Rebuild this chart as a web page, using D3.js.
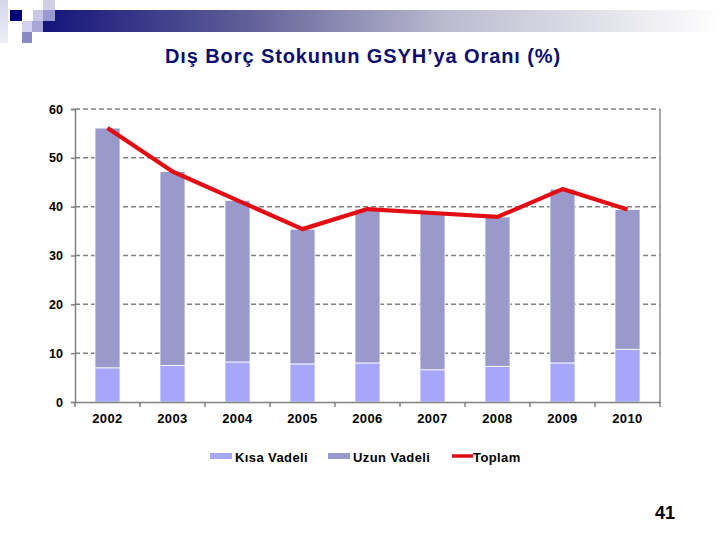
<!DOCTYPE html>
<html>
<head>
<meta charset="utf-8">
<script src="https://cdn.jsdelivr.net/npm/d3@7"></script>
<style>
  body { margin: 0; background: #fff; }
  svg { display: block; font-family: 'Liberation Sans', Arial, sans-serif; }
</style>
</head>
<body>
<svg id="chart"></svg>
<script>
(function () {
  'use strict';

  var years = ['2002', '2003', '2004', '2005', '2006', '2007', '2008', '2009', '2010'];
  var kisaVadeli = [7.0, 7.5, 8.2, 7.8, 8.0, 6.6, 7.3, 8.0, 10.8];
  var uzunVadeli = [49.1, 39.7, 33.1, 27.6, 31.5, 32.1, 30.6, 35.6, 28.6];
  var toplam = [56.1, 47.2, 41.3, 35.4, 39.5, 38.7, 37.9, 43.6, 39.4];
  var yTicks = [0, 10, 20, 30, 40, 50, 60];
  var legendItems = ['Kısa Vadeli', 'Uzun Vadeli', 'Toplam'];

  var svg = d3.select('#chart')
      .attr('width', 720)
      .attr('height', 540);

  // slide decoration: gradient banner + little squares
  var defs = svg.append('defs');
  var grad = defs.append('linearGradient')
      .attr('id', 'banner')
      .attr('x1', '0%').attr('x2', '100%');
  [[0, '#14147a'], [0.3, '#5f5f98'], [0.6, '#bcbcd0'], [1, '#ffffff']].forEach(function (s) {
    grad.append('stop').attr('offset', s[0]).attr('stop-color', s[1]);
  });
  var pale = defs.append('linearGradient')
      .attr('id', 'pale')
      .attr('x1', '0%').attr('x2', '0%').attr('y1', '0%').attr('y2', '100%');
  pale.append('stop').attr('offset', 0).attr('stop-color', '#d6d6ec');
  pale.append('stop').attr('offset', 1).attr('stop-color', '#eeeef8');

  svg.append('rect')
      .attr('x', 43).attr('y', 10).attr('width', 677).attr('height', 22)
      .attr('fill', 'url(#banner)');

  var squares = [
    [0, 0, 8, 43, 'url(#pale)'],
    [10, 10, 12, 11, '#00007a'],
    [33, 10, 10, 11, '#c8c8e6'],
    [43, 0, 12, 10, '#cfcfe6'],
    [43, 10, 12, 11, '#9a9ad0'],
    [22, 21, 10, 11, '#d2d2ec'],
    [32, 21, 11, 11, '#a8a8d8'],
    [22, 32, 10, 11, '#8888c4']
  ];
  svg.selectAll('rect.sq')
      .data(squares)
      .enter()
      .append('rect')
      .attr('class', 'sq')
      .attr('x', function (d) { return d[0]; })
      .attr('y', function (d) { return d[1]; })
      .attr('width', function (d) { return d[2]; })
      .attr('height', function (d) { return d[3]; })
      .attr('fill', function (d) { return d[4]; });

  // title
  svg.append('text')
      .attr('x', 363)
      .attr('y', 63)
      .attr('text-anchor', 'middle')
      .style('font-size', '20px')
      .style('font-weight', 'bold')
      .style('letter-spacing', '0.9px')
      .style('fill', '#0d0d70')
      .text('Dış Borç Stokunun GSYH’ya Oranı (%)');

  // scales
  var left = 75, right = 660, top = 109, bottom = 402;
  var x = d3.scaleBand()
      .domain(years)
      .range([left, right])
      .paddingInner(0.615)
      .paddingOuter(0.3075);
  var y = d3.scaleLinear()
      .domain([0, 60])
      .range([bottom, top]);

  // gridlines
  svg.append('g')
      .selectAll('line')
      .data(yTicks.filter(function (d) { return d > 0; }))
      .enter()
      .append('line')
      .attr('x1', left).attr('x2', right)
      .attr('y1', function (d) { return y(d); })
      .attr('y2', function (d) { return y(d); })
      .attr('stroke', '#808080')
      .attr('stroke-width', 1.5)
      .attr('stroke-dasharray', '5,3');

  // right border
  svg.append('line')
      .attr('x1', right).attr('x2', right)
      .attr('y1', top).attr('y2', bottom)
      .attr('stroke', '#8c8c8c').attr('stroke-width', 1.5);

  // stacked bars
  var rows = years.map(function (yr, i) {
    return { year: yr, kisa: kisaVadeli[i], uzun: uzunVadeli[i], toplam: toplam[i] };
  });
  var stack = d3.stack().keys(['kisa', 'uzun'])(rows);
  var colors = { kisa: '#a6a6fa', uzun: '#9999cc' };

  svg.append('g')
      .selectAll('g')
      .data(stack)
      .enter()
      .append('g')
      .attr('fill', function (d) { return colors[d.key]; })
      .selectAll('rect')
      .data(function (d) { return d; })
      .enter()
      .append('rect')
      .attr('x', function (d) { return x(d.data.year); })
      .attr('width', x.bandwidth())
      .attr('y', function (d) { return y(d[1]); })
      .attr('height', function (d) { return y(d[0]) - y(d[1]); })
      .attr('stroke', '#ffffff')
      .attr('stroke-width', 0.8);

  // axes
  var yAxis = svg.append('g')
      .attr('transform', 'translate(' + left + ',0)')
      .call(d3.axisLeft(y).tickValues(yTicks).tickSize(4).tickPadding(8));
  yAxis.select('.domain').attr('stroke', '#808080').attr('stroke-width', 1.5);
  yAxis.selectAll('.tick line').attr('stroke', '#808080').attr('stroke-width', 1.5);
  yAxis.selectAll('text')
      .style('font-family', "'Liberation Sans', Arial, sans-serif")
      .style('font-size', '12.5px')
      .style('font-weight', 'bold')
      .style('fill', '#000');

  var xAxis = svg.append('g')
      .attr('transform', 'translate(0,' + bottom + ')')
      .call(d3.axisBottom(x).tickSize(0).tickPadding(12));
  xAxis.select('.domain').attr('stroke', '#808080').attr('stroke-width', 1.5);
  xAxis.selectAll('text')
      .style('font-family', "'Liberation Sans', Arial, sans-serif")
      .style('font-size', '13px')
      .style('font-weight', 'bold')
      .style('letter-spacing', '0.4px')
      .style('fill', '#000');

  // category boundary ticks
  var bounds = d3.range(years.length + 1).map(function (i) { return left + i * x.step(); });
  svg.append('g')
      .selectAll('line')
      .data(bounds)
      .enter()
      .append('line')
      .attr('x1', function (d) { return d; })
      .attr('x2', function (d) { return d; })
      .attr('y1', bottom)
      .attr('y2', bottom + 5)
      .attr('stroke', '#808080')
      .attr('stroke-width', 1.5);

  // total line
  var line = d3.line()
      .x(function (d) { return x(d.year) + x.bandwidth() / 2; })
      .y(function (d) { return y(d.toplam); });
  svg.append('path')
      .datum(rows)
      .attr('d', line)
      .attr('fill', 'none')
      .attr('stroke', '#e30d14')
      .attr('stroke-width', 4.2)
      .attr('stroke-linejoin', 'round');

  // legend
  var legendX = [210, 328, 452];
  var legend = svg.append('g')
      .selectAll('g')
      .data(legendItems)
      .enter()
      .append('g')
      .attr('transform', function (d, i) { return 'translate(' + legendX[i] + ',0)'; });
  legend.each(function (d, i) {
    var g = d3.select(this);
    if (i < 2) {
      g.append('rect')
          .attr('x', 0).attr('y', 453)
          .attr('width', 22).attr('height', 6)
          .attr('fill', i === 0 ? colors.kisa : colors.uzun);
    } else {
      g.append('line')
          .attr('x1', 0).attr('x2', 21)
          .attr('y1', 456).attr('y2', 456)
          .attr('stroke', '#e30d14').attr('stroke-width', 3.5);
    }
    g.append('text')
        .attr('x', i < 2 ? 25 : 21)
        .attr('y', 462)
        .style('font-size', '13px')
        .style('font-weight', 'bold')
        .style('letter-spacing', '0.4px')
        .style('fill', '#000')
        .text(d);
  });

  // page number
  svg.append('text')
      .attr('x', 675)
      .attr('y', 519)
      .attr('text-anchor', 'end')
      .style('font-size', '18px')
      .style('font-weight', 'bold')
      .style('fill', '#000')
      .text('41');
} ());
</script>
</body>
</html>
